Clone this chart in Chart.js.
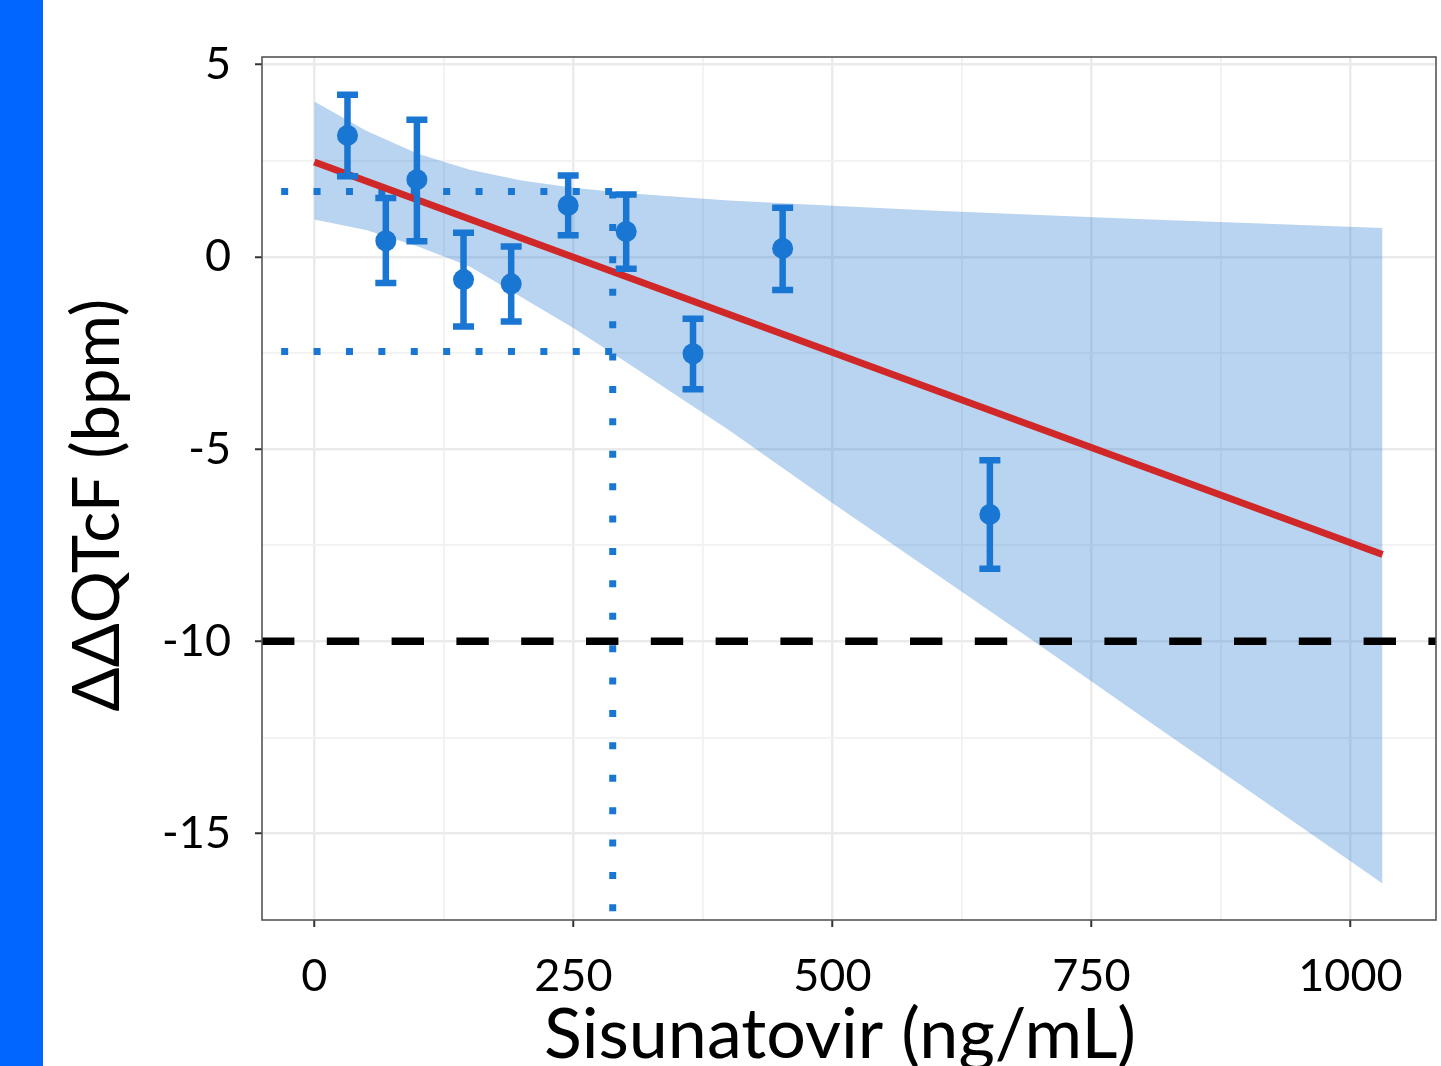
<!DOCTYPE html>
<html>
<head>
<meta charset="utf-8">
<script src="https://cdn.jsdelivr.net/npm/chart.js@4.4.0/dist/chart.umd.min.js"></script>
<style>
  html, body { margin: 0; padding: 0; background: #fff; }
  #chart { display: block; }
</style>
</head>
<body>
<canvas id="chart" width="1441" height="1066"></canvas>
<script>
// Binned observations: concentration (ng/mL), mean ΔΔQTcF and 90% CI (bpm)
const binConc  = [32, 69, 99, 144, 190, 245, 301, 365.5, 452, 652];
const binMean  = [3.16, 0.42, 2.01, -0.59, -0.70, 1.34, 0.66, -2.52, 0.22, -6.70];
const binUpper = [4.22, 1.53, 3.57, 0.63, 0.27, 2.12, 1.62, -1.61, 1.28, -5.29];
const binLower = [2.10, -0.68, 0.41, -1.81, -1.68, 0.56, -0.31, -3.44, -0.86, -8.11];

// Model prediction and its confidence band
const fitConc  = [0, 1031];
const fitValue = [2.47, -7.74];
const ciConc   = [0, 50, 100, 150, 200, 250, 300, 400, 500, 600, 700, 800, 900, 1031];
const ciUpper  = [4.04, 3.28, 2.68, 2.27, 1.99, 1.80, 1.66, 1.47, 1.33, 1.20, 1.09, 0.98, 0.88, 0.75];
const ciLower  = [0.97, 0.70, 0.27, -0.25, -1.05, -1.85, -2.72, -4.50, -6.40, -8.25, -10.10, -11.98, -13.85, -16.30];

// Reference lines
const thresholdConc  = 288;
const thresholdUpper = 1.70;
const thresholdLower = -2.46;
const guideStart     = -32;
const refLimit       = -10;

// Axes
const xRange = [-50.5, 1082.6];
const yRange = [-17.25, 5.2];
const xTickValues = [0, 250, 500, 750, 1000];
const yTickValues = [5, 0, -5, -10, -15];
const xGridValues = [0, 125, 250, 375, 500, 625, 750, 875, 1000];
const yGridValues = [5, 2.5, 0, -2.5, -5, -7.5, -10, -12.5, -15];

const BLUE = '#1976D2';
const FONT = "Lato, 'Open Sans', sans-serif";

const pts = (xs, ys) => xs.map((x, i) => ({ x: x, y: ys[i] }));

// background, left stripe, panel border and error bars
const decor = {
  id: 'decor',
  beforeDraw(chart) {
    const ctx = chart.ctx;
    ctx.save();
    ctx.fillStyle = '#ffffff';
    ctx.fillRect(0, 0, chart.width, chart.height);
    ctx.fillStyle = '#0066FF';
    ctx.fillRect(0, 0, 43, chart.height);
    ctx.restore();
  },
  beforeDatasetDraw(chart, args) {
    if (chart.data.datasets[args.index].label !== 'bins') return;
    const ctx = chart.ctx;
    const xs = chart.scales.x, ys = chart.scales.y;
    ctx.save();
    ctx.strokeStyle = BLUE;
    ctx.lineWidth = 6.5;
    ctx.lineCap = 'butt';
    binConc.forEach((c, i) => {
      const px = xs.getPixelForValue(c);
      const top = ys.getPixelForValue(binUpper[i]);
      const bot = ys.getPixelForValue(binLower[i]);
      ctx.beginPath();
      ctx.moveTo(px, top);
      ctx.lineTo(px, bot);
      ctx.moveTo(px - 10.5, top);
      ctx.lineTo(px + 10.5, top);
      ctx.moveTo(px - 10.5, bot);
      ctx.lineTo(px + 10.5, bot);
      ctx.stroke();
    });
    ctx.restore();
  },
  afterDraw(chart) {
    const a = chart.chartArea;
    const ctx = chart.ctx;
    ctx.save();
    ctx.strokeStyle = '#555555';
    ctx.lineWidth = 1.6;
    ctx.strokeRect(a.left, a.top, a.right - a.left, a.bottom - a.top);
    ctx.restore();
  }
};

const isMajor = (axis, v) => axis === 'x' ? xTickValues.includes(v) : yTickValues.includes(v);
const gridFor = (axis) => ({
  color: c => isMajor(axis, c.tick.value) ? '#EBEBEB' : '#F1F1F1',
  lineWidth: c => isMajor(axis, c.tick.value) ? 2.5 : 1.8,
  tickColor: c => isMajor(axis, c.tick.value) ? '#333333' : 'rgba(0,0,0,0)',
  tickWidth: 2,
  tickLength: 7,
  drawTicks: true
});

const lineDs = (label, data, color, width, dash, order) => ({
  label: label,
  data: data,
  showLine: true,
  borderColor: color,
  borderWidth: width,
  borderDash: dash,
  borderCapStyle: 'butt',
  pointRadius: 0,
  fill: false,
  order: order
});

new Chart(document.getElementById('chart'), {
  type: 'scatter',
  data: {
    datasets: [
      {
        label: 'ciUpper',
        data: pts(ciConc, ciUpper),
        showLine: true,
        borderWidth: 0,
        borderColor: 'rgba(0,0,0,0)',
        backgroundColor: 'rgba(25,115,205,0.31)',
        pointRadius: 0,
        fill: '+1',
        order: 10
      },
      {
        label: 'ciLower',
        data: pts(ciConc, ciLower),
        showLine: true,
        borderWidth: 0,
        borderColor: 'rgba(0,0,0,0)',
        pointRadius: 0,
        fill: false,
        order: 10
      },
      lineDs('guideUpper', pts([guideStart, thresholdConc], [thresholdUpper, thresholdUpper]), BLUE, 7, [7, 25.4], 8),
      lineDs('guideLower', pts([guideStart, thresholdConc], [thresholdLower, thresholdLower]), BLUE, 7, [7, 25.4], 8),
      lineDs('guideConc', pts([thresholdConc, thresholdConc], [thresholdUpper, yRange[0]]), BLUE, 7, [7, 25.4], 8),
      lineDs('limit', pts(xRange, [refLimit, refLimit]), '#000000', 7.5, [32.4, 32.4], 7),
      lineDs('fit', pts(fitConc, fitValue), '#D02828', 7, [], 6),
      {
        label: 'bins',
        data: pts(binConc, binMean),
        pointRadius: 10.5,
        pointBackgroundColor: BLUE,
        pointBorderWidth: 0,
        showLine: false,
        order: 1
      }
    ]
  },
  options: {
    responsive: false,
    animation: false,
    events: [],
    layout: { autoPadding: false, padding: { left: 0, top: 57, right: 5, bottom: 0 } },
    plugins: {
      legend: { display: false },
      tooltip: { enabled: false }
    },
    scales: {
      x: {
        type: 'linear',
        min: xRange[0],
        max: xRange[1],
        grid: gridFor('x'),
        border: { display: false },
        afterBuildTicks: s => { s.ticks = xGridValues.map(v => ({ value: v })); },
        ticks: {
          autoSkip: false,
          maxRotation: 0,
          padding: 22,
          color: '#000000',
          font: { family: FONT, size: 45 },
          callback: v => xTickValues.includes(v) ? String(v) : ''
        },
        title: {
          display: true,
          text: 'Sisunatovir (ng/mL) ',
          color: '#000000',
          font: { family: FONT, size: 70, lineHeight: 1 },
          padding: { top: 0, bottom: -4 }
        },
        afterFit: s => { s.height = 146; s.paddingLeft = 0; s.paddingRight = 0; }
      },
      y: {
        type: 'linear',
        min: yRange[0],
        max: yRange[1],
        grid: gridFor('y'),
        border: { display: false },
        afterBuildTicks: s => { s.ticks = yGridValues.map(v => ({ value: v })); },
        ticks: {
          autoSkip: false,
          padding: 24,
          color: '#000000',
          font: { family: FONT, size: 45 },
          callback: v => yTickValues.includes(v) ? String(v) : ''
        },
        title: {
          display: true,
          text: 'ΔΔQTcF (bpm)  ',
          color: '#000000',
          font: { family: FONT, size: 65, lineHeight: 1 },
          padding: { top: 66, bottom: 0 }
        },
        afterFit: s => { s.width = 262; }
      }
    }
  },
  plugins: [decor]
});
</script>
</body>
</html>
